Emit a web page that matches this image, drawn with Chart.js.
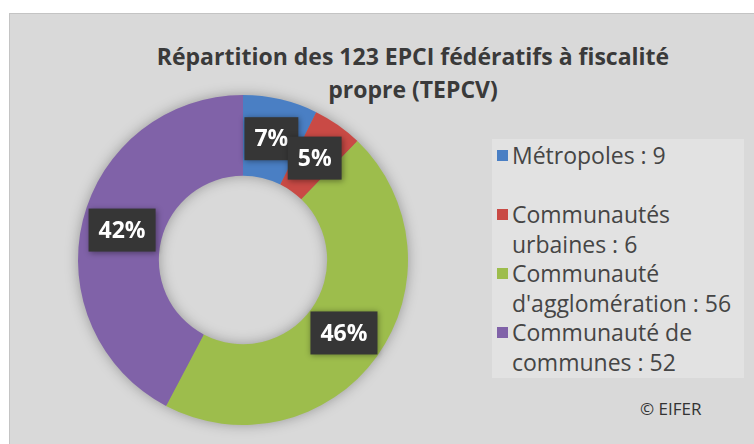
<!DOCTYPE html>
<html>
<head>
<meta charset="utf-8">
<script src="https://cdn.jsdelivr.net/npm/chart.js@4"></script>
<style>
  html, body { margin: 0; padding: 0; background: #ffffff; }
  #wrap { position: relative; width: 754px; height: 444px; overflow: hidden; background: #fff; }
  #panel { position: absolute; left: 9px; top: 13px; width: 745px; height: 431px;
           background: #d9d9d9; border-left: 1px solid #c4c4c4; border-top: 1px solid #c4c4c4; box-sizing: border-box; }
  #title { position: absolute; left: 113px; width: 600px; top: 40px; text-align: center; white-space: nowrap;
           font-family: "Open Sans", sans-serif; font-weight: bold; font-size: 23px; line-height: 33px; color: #3a3a3a; }
  #legend { position: absolute; left: 492px; top: 139px; width: 252px; height: 239px; background: #e2e2e2; }
  #legend ul { list-style: none; margin: 0; padding: 0; position: absolute; left: 5px; top: 2px; }
  #legend li { position: relative; padding-left: 15px; font-family: "Open Sans", sans-serif; font-size: 23px;
               line-height: 29.5px; color: #454545; width: 230px; white-space: nowrap; }
  #legend li span.sw { position: absolute; left: 0; top: 9px; width: 11px; height: 11px; }
  #credit { position: absolute; left: 640px; top: 397px; font-family: "Open Sans", sans-serif; font-size: 17px; color: #333; }
  canvas { position: absolute; left: 0; top: 0; }
</style>
</head>
<body>
<div id="wrap">
  <div id="panel"></div>
  <div id="title"></div>
  <div id="legend"><ul id="legendList"></ul></div>
  <div id="credit">© EIFER</div>
  <canvas id="c" width="754" height="444"></canvas>
</div>
<script>
const titleLines = ["Répartition des 123 EPCI fédératifs à fiscalité", "propre (TEPCV)"];
const categories = ["Métropoles", "Communautés urbaines", "Communauté d'agglomération", "Communauté de communes"];
const counts = [9, 6, 56, 52];
const colors = ["#4a7fc4", "#c94a45", "#9dbd4c", "#8062a8"];
const legendBreaks = [["Métropoles : 9", ""], ["Communautés", "urbaines : 6"], ["Communauté", "d'agglomération : 56"], ["Communauté de", "communes : 52"]];

document.getElementById('title').innerHTML = titleLines.join('<br>');
const ul = document.getElementById('legendList');
categories.forEach((c, i) => {
  const li = document.createElement('li');
  const lines = legendBreaks[i];
  li.innerHTML = '<span class="sw" style="background:' + colors[i] + '"></span>' + lines.map(l => l === '' ? '&nbsp;' : l).join('<br>');
  ul.appendChild(li);
});

const total = counts.reduce((a, b) => a + b, 0);

const shadowRing = {
  id: 'shadowRing',
  beforeDatasetsDraw(chart) {
    const meta = chart.getDatasetMeta(0);
    const a = meta.data[0];
    if (!a) return;
    const ctx = chart.ctx;
    ctx.save();
    ctx.shadowColor = 'rgba(0,0,0,0.35)';
    ctx.shadowBlur = 14;
    ctx.fillStyle = '#888';
    ctx.beginPath();
    ctx.arc(a.x, a.y, a.outerRadius - 1, 0, Math.PI * 2);
    ctx.arc(a.x, a.y, a.innerRadius + 1, 0, Math.PI * 2, true);
    ctx.fill();
    ctx.restore();
  }
};

const boxLabels = {
  id: 'boxLabels',
  afterDatasetsDraw(chart) {
    const meta = chart.getDatasetMeta(0);
    const ctx = chart.ctx;
    ctx.save();
    ctx.font = 'bold 23px "Open Sans", sans-serif';
    ctx.textAlign = 'center';
    ctx.textBaseline = 'middle';
    meta.data.forEach((arc, i) => {
      const p = arc.tooltipPosition();
      const txt = Math.round(counts[i] / total * 100) + '%';
      const w = ctx.measureText(txt).width + 20;
      const h = 43;
      ctx.save();
      ctx.shadowColor = 'rgba(0,0,0,0.4)';
      ctx.shadowBlur = 6;
      ctx.shadowOffsetX = 1;
      ctx.shadowOffsetY = 1;
      ctx.fillStyle = '#363636';
      ctx.fillRect(p.x - w / 2, p.y - h / 2, w, h);
      ctx.restore();
      ctx.fillStyle = '#ffffff';
      ctx.fillText(txt, p.x, p.y + 1);
    });
    ctx.restore();
  }
};

new Chart(document.getElementById('c'), {
  type: 'doughnut',
  data: {
    labels: categories,
    datasets: [{
      data: counts,
      backgroundColor: colors,
      borderWidth: 0
    }]
  },
  options: {
    responsive: false,
    animation: false,
    devicePixelRatio: 1,
    cutout: '51%',
    layout: { padding: { left: 78, top: 95, right: 346, bottom: 19 } },
    plugins: { legend: { display: false }, title: { display: false }, tooltip: { enabled: false } }
  },
  plugins: [shadowRing, boxLabels]
});
</script>
</body>
</html>
